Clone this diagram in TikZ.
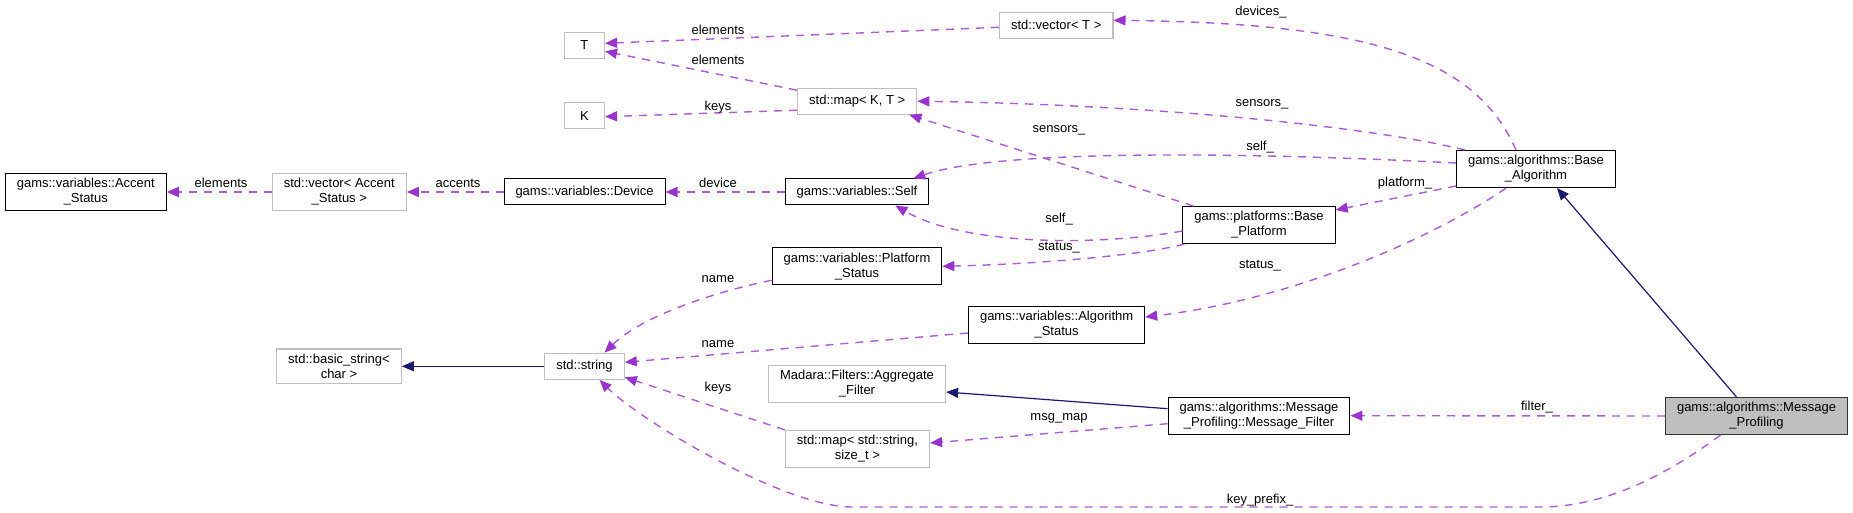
\documentclass[tikz,border=0pt]{standalone}
\usepackage{fontspec}
\setmainfont{Liberation Sans}
\usepackage{tikz}
\usetikzlibrary{arrows.meta}
\definecolor{orchid}{RGB}{154,50,205}
\definecolor{midnight}{RGB}{25,25,112}
\definecolor{grey75}{RGB}{191,191,191}

\begin{document}
\begin{tikzpicture}[x=1pt, y=-1pt,
                    font=\fontsize{13}{15}\selectfont,
                    cls/.style = {
                      rectangle, draw=black, line width=1pt,
                      align=center, fill=white,
                      inner xsep=11.5pt, inner ysep=5pt,
                      minimum height=26pt, minimum width=40pt
                    },
                    ext/.style = {
                      cls, draw=grey75, line width=1.3pt
                    },
                    focus/.style = {
                      cls, fill=grey75, draw=black!80
                    },
                    usage/.style = {
                      draw=orchid!80, line width=1.4pt,
                      dash pattern=on 8pt off 7pt,
                      -{Triangle[length=12pt, width=10pt, color=orchid]}
                    },
                    inherit/.style = {
                      draw=midnight, line width=1.2pt,
                      -{Triangle[length=12pt, width=10pt]}
                    },
                    lbl/.style = {
                      inner sep=0pt, text height=9pt, text depth=2pt
                    }]
    \useasboundingbox (0,0) rectangle (1853,513);

    \node(tname)[ext] at (584.4,45.3) {T};
    \node(kname)[ext] at (584.4,115.7) {K};
    \node(vect)[ext] at (1056.2,25.3) {std::vector< T >};
    \node(kmap)[ext] at (857.2,101.2) {std::map< K, T >};
    \node(acc)[cls] at (85.8,192) {gams::variables::Accent\\\_Status};
    \node(vacc)[ext] at (339.3,192) {std::vector< Accent\\\_Status >};
    \node(dev)[cls] at (584.5,192) {gams::variables::Device};
    \node(self)[cls] at (857,192) {gams::variables::Self};
    \node(bplat)[cls] at (1259,225) {gams::platforms::Base\\\_Platform};
    \node(balg)[cls] at (1536,169) {gams::algorithms::Base\\\_Algorithm};
    \node(pstat)[cls] at (857,266.3) {gams::variables::Platform\\\_Status};
    \node(astat)[cls] at (1056.6,325) {gams::variables::Algorithm\\\_Status};
    \node(bstr)[ext] at (339,366.3) {std::basic\_string<\\char >};
    \node(str)[ext] at (584.5,366.3) {std::string};
    \node(aggr)[ext] at (857,384) {Madara::Filters::Aggregate\\\_Filter};
    \node(smap)[ext] at (857.4,449) {std::map< std::string,\\size\_t >};
    \node(mfilt)[cls] at (1259,415.7) {gams::algorithms::Message\\\_Profiling::Message\_Filter};
    \node(mprof)[focus] at (1756.5,416) {gams::algorithms::Message\\\_Profiling};

    \draw[usage] ([yshift=-2pt]vect.west) -- ([yshift=2pt]tname.east)
      node[lbl] at (718,31) {elements};
    \draw[usage] ([yshift=11pt]kmap.west) -- ([yshift=-6pt]tname.east)
      node[lbl] at (718,61) {elements};
    \draw[usage] ([yshift=-9pt]kmap.west) -- ([yshift=-1pt]kname.east)
      node[lbl] at (718,107) {keys};
    \draw[usage] (dev.west) -- (vacc.east)
      node[lbl] at (458,184) {accents};
    \draw[usage] (vacc.west) -- (acc.east)
      node[lbl] at (221,184) {elements};
    \draw[usage] (self.west) -- (dev.east)
      node[lbl] at (718,184) {device};

    \draw[usage] ([xshift=-20pt]balg.north) .. controls (1476,59) and (1373,23) .. ([yshift=5pt]vect.east)
      node[lbl] at (1261,12) {devices\_};
    \draw[usage] ([xshift=9pt]balg.north west) .. controls (1375,128) and (1168,105) .. (kmap.east)
      node[lbl] at (1262,103) {sensors\_};
    \draw[usage] ([yshift=6pt]balg.west) .. controls (1200,150) and (990,152) .. ([xshift=-16pt]self.north east)
      node[lbl] at (1260,147) {self\_};
    \draw[usage] ([yshift=-17pt]balg.west) -- ([yshift=15pt]bplat.east)
      node[lbl] at (1405,183) {platform\_};
    \draw[usage] ([xshift=-30pt]balg.south) .. controls (1430,240) and (1290,300) .. ([yshift=8pt]astat.east)
      node[lbl] at (1260,265) {status\_};

    \draw[usage] ([xshift=11pt]bplat.north west) -- ([xshift=-8pt]kmap.south east)
      node[lbl] at (1059,129) {sensors\_};
    \draw[usage] ([yshift=-6pt]bplat.west) .. controls (1100,246) and (965,246) .. ([xshift=-34pt]self.south east)
      node[lbl] at (1059,219) {self\_};
    \draw[usage] ([xshift=2pt]bplat.south west) .. controls (1144,255) and (1041,264) .. (pstat.east)
      node[lbl] at (1059,247) {status\_};

    \draw[usage] ([yshift=-14pt]pstat.west) .. controls (723,290) and (644,314) .. ([xshift=20pt]str.north)
      node[lbl] at (718,279) {name};
    \draw[usage] ([yshift=-8pt]astat.west) -- ([yshift=4pt]str.east)
      node[lbl] at (718,344) {name};
    \draw[usage] (smap.north west) -- ([yshift=-11pt]str.east)
      node[lbl] at (718,388) {keys};
    \draw[usage] ([xshift=-36pt]mprof.south) .. controls (1660,480) and (1600,507) .. (1540,507)
      -- (850,507) .. controls (780,505) and (640,420) .. ([xshift=15pt]str.south)
      node[lbl] at (1260,500) {key\_prefix\_};

    \draw[usage] (mprof.west) -- (mfilt.east)
      node[lbl] at (1537,407) {filter\_};
    \draw[usage] ([yshift=-8pt]mfilt.west) -- ([yshift=6pt]smap.east)
      node[lbl] at (1059,417) {msg\_map};

    \draw[inherit] ([yshift=7pt]mfilt.west) -- ([yshift=-8pt]aggr.east);
    \draw[inherit] ([xshift=-20pt]mprof.north) -- ([xshift=21pt]balg.south);
    \draw[inherit] (str.west) -- (bstr.east);
\end{tikzpicture}
\end{document}
